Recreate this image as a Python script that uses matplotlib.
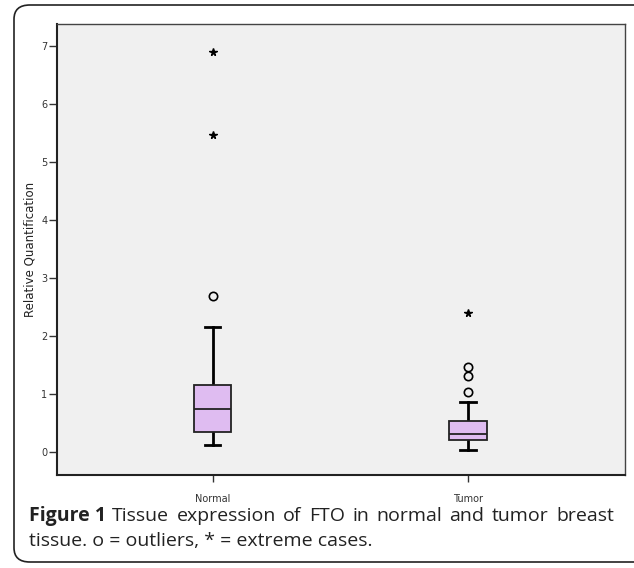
import matplotlib
matplotlib.use('Agg')
from matplotlib import pyplot as plt
from matplotlib.patches import FancyBboxPatch

groups = ['Normal', 'Tumor']
whislo = [0.115, 0.03]
q1 = [0.35, 0.21]
med = [0.735, 0.31]
q3 = [1.15, 0.53]
whishi = [2.155, 0.855]
outliers = [[2.68], [1.03, 1.315, 1.465]]
extremes = [[5.47, 6.9], [2.40]]
yticks = [0, 1, 2, 3, 4, 5, 6, 7]

fig = plt.figure(figsize=(6.34, 5.68), dpi=100)
ax = fig.add_axes([57/634, 1 - 475/568, 568/634, 451/568])
ax.set_facecolor('#f0f0f0')

stats = []
for i in range(len(groups)):
    stats.append(dict(label=groups[i], whislo=whislo[i], q1=q1[i], med=med[i],
                      q3=q3[i], whishi=whishi[i], fliers=[]))
bp = ax.bxp(stats, positions=[1, 2], widths=0.145, patch_artist=True, showfliers=False,
            boxprops=dict(facecolor='#dfbcf1', edgecolor='#222222', linewidth=1.3),
            medianprops=dict(color='#222222', linewidth=1.3),
            whiskerprops=dict(color='black', linewidth=2),
            capprops=dict(color='black', linewidth=2), capwidths=0.06)
for b in bp['boxes']:
    b.set_zorder(3)
for m in bp['medians']:
    m.set_zorder(4)
for i in range(len(groups)):
    ax.plot([i + 1] * len(outliers[i]), outliers[i], 'o', mfc='none', mec='black',
            ms=6, mew=1.2)
    ax.plot([i + 1] * len(extremes[i]), extremes[i], '*', color='black', ms=5.5)

ax.set_xlim(0.39, 2.615)
ax.set_ylim(-0.4, 7.38)
ax.set_yticks(yticks)
ax.set_xticks([1, 2])
ax.set_xticklabels(groups)
ax.tick_params(axis='y', labelsize=7, length=6, width=1, pad=1, colors='#333333')
ax.tick_params(axis='x', labelsize=7, length=5, width=1, pad=9, colors='#333333')
ax.set_ylabel('Relative Quantification', fontsize=8.5, labelpad=3, color='#222222')
for s in ['top', 'right']:
    ax.spines[s].set_color('#444444')
    ax.spines[s].set_linewidth(1.0)
for s in ['left', 'bottom']:
    ax.spines[s].set_color('#222222')
    ax.spines[s].set_linewidth(1.5)

frame = FancyBboxPatch((14/634, 6/568), 640/634, 557/568,
                       boxstyle='round,pad=0,rounding_size=0.025',
                       transform=fig.transFigure, fill=False, ec='#222222', lw=1.2)
fig.patches.append(frame)

# caption, first line spread to the right edge like the journal layout
fs = 14
r = fig.canvas.get_renderer()
t1 = fig.text(29/634, 1 - 521/568, 'Figure 1', fontsize=fs, fontweight='bold',
              family='Open Sans', color='#222222', va='baseline')
x = t1.get_window_extent(r).x1 + 6
words = 'Tissue expression of FTO in normal and tumor breast'.split()
wts = [fig.text(0, 1 - 521/568, w, fontsize=fs, family='Open Sans', color='#222222',
                va='baseline') for w in words]
widths = [w.get_window_extent(r).width for w in wts]
gap = (614 - x - sum(widths)) / (len(words) - 1)
for w, wd in zip(wts, widths):
    w.set_x(x / 634)
    x += wd + gap
fig.text(29/634, 1 - 546/568, 'tissue. o = outliers, * = extreme cases.', fontsize=fs,
         family='Open Sans', color='#222222', va='baseline')

fig.savefig('out.png', dpi=100)
